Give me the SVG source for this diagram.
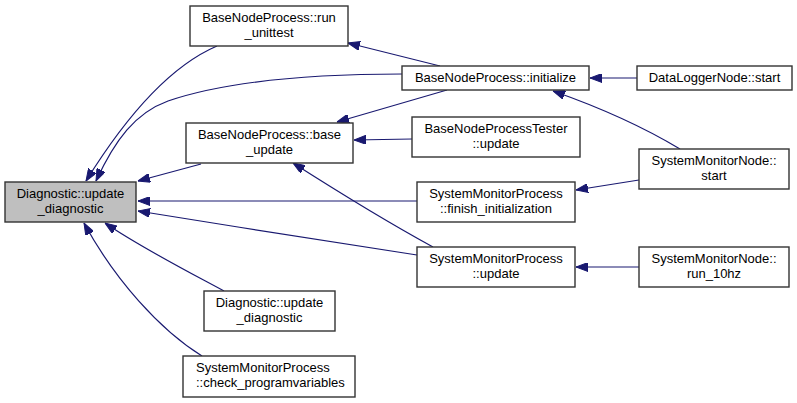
<svg xmlns="http://www.w3.org/2000/svg" width="797" height="403" viewBox="0 0 797 403">
<style>
.n rect{fill:#ffffff;stroke:#333333;stroke-width:1.4}
.n rect.hl{fill:#bfbfbf}
.n text{font-family:"Liberation Sans",Arial,sans-serif;font-size:13px;fill:#000;text-anchor:middle}
.e path{fill:none;stroke:#191970;stroke-width:1.2;marker-end:url(#ah)}
</style>
<defs>
<marker id="ah" markerUnits="userSpaceOnUse" viewBox="0 0 12 9" refX="12" refY="4.5" markerWidth="12" markerHeight="9" orient="auto">
<path d="M0,0 L12,4.5 L0,9 z" fill="#191970" stroke="#191970"/>
</marker>
</defs>
<rect width="797" height="403" fill="#ffffff"/>
<g id="edges" class="e">
<path d="M217,46 C175,64 130,110 86,181"/>
<path d="M402,74 C320,74 230,80 168,101 C135,113 115,140 96,181"/>
<path d="M201,164 L138,181"/>
<path d="M447,90 L337,122"/>
<path d="M440,66 L348,43"/>
<path d="M412,139 L354,140"/>
<path d="M637,78 L590,78"/>
<path d="M680,149 C650,131 610,111 553,91"/>
<path d="M639,180 L576,190"/>
<path d="M417,201 L138,201"/>
<path d="M417,255 C340,243 230,226 138,211"/>
<path d="M433,247 C400,229 340,193 293,163"/>
<path d="M639,267 L576,267"/>
<path d="M224,291 C185,270 140,247 105,223"/>
<path d="M202,356 C160,330 115,280 84,223"/>
</g>
<g id="n_diag" class="n"><rect class="hl" x="5" y="182" width="131" height="40"/><text x="70.5" y="198">Diagnostic::update</text><text x="70.5" y="213">_diagnostic</text></g>
<g id="n_run_unittest" class="n"><rect x="190" y="6" width="158" height="40"/><text x="269" y="22">BaseNodeProcess::run</text><text x="269" y="37">_unittest</text></g>
<g id="n_base_update" class="n"><rect x="186" y="123" width="167" height="40"/><text x="269.5" y="139">BaseNodeProcess::base</text><text x="269.5" y="154">_update</text></g>
<g id="n_initialize" class="n"><rect x="402" y="66" width="187" height="24"/><text x="495.5" y="82">BaseNodeProcess::initialize</text></g>
<g id="n_datalogger" class="n"><rect x="637" y="66" width="155" height="24"/><text x="714.5" y="82">DataLoggerNode::start</text></g>
<g id="n_tester" class="n"><rect x="412" y="117" width="168" height="40"/><text x="496" y="133">BaseNodeProcessTester</text><text x="496" y="148">::update</text></g>
<g id="n_smn_start" class="n"><rect x="639" y="149" width="150" height="40"/><text x="714" y="165">SystemMonitorNode::</text><text x="714" y="180">start</text></g>
<g id="n_finish" class="n"><rect x="417" y="182" width="158" height="40"/><text x="496" y="198">SystemMonitorProcess</text><text x="496" y="213">::finish_initialization</text></g>
<g id="n_smp_update" class="n"><rect x="417" y="247" width="158" height="40"/><text x="496" y="263">SystemMonitorProcess</text><text x="496" y="278">::update</text></g>
<g id="n_run10" class="n"><rect x="639" y="247" width="150" height="40"/><text x="714" y="263">SystemMonitorNode::</text><text x="714" y="278">run_10hz</text></g>
<g id="n_diag2" class="n"><rect x="204" y="291" width="131" height="40"/><text x="269.5" y="307">Diagnostic::update</text><text x="269.5" y="322">_diagnostic</text></g>
<g id="n_check" class="n"><rect x="183" y="356" width="172" height="41"/><text x="196" y="372" style="text-anchor:start">SystemMonitorProcess</text><text x="196" y="387" style="text-anchor:start">::check_programvariables</text></g>
</svg>
